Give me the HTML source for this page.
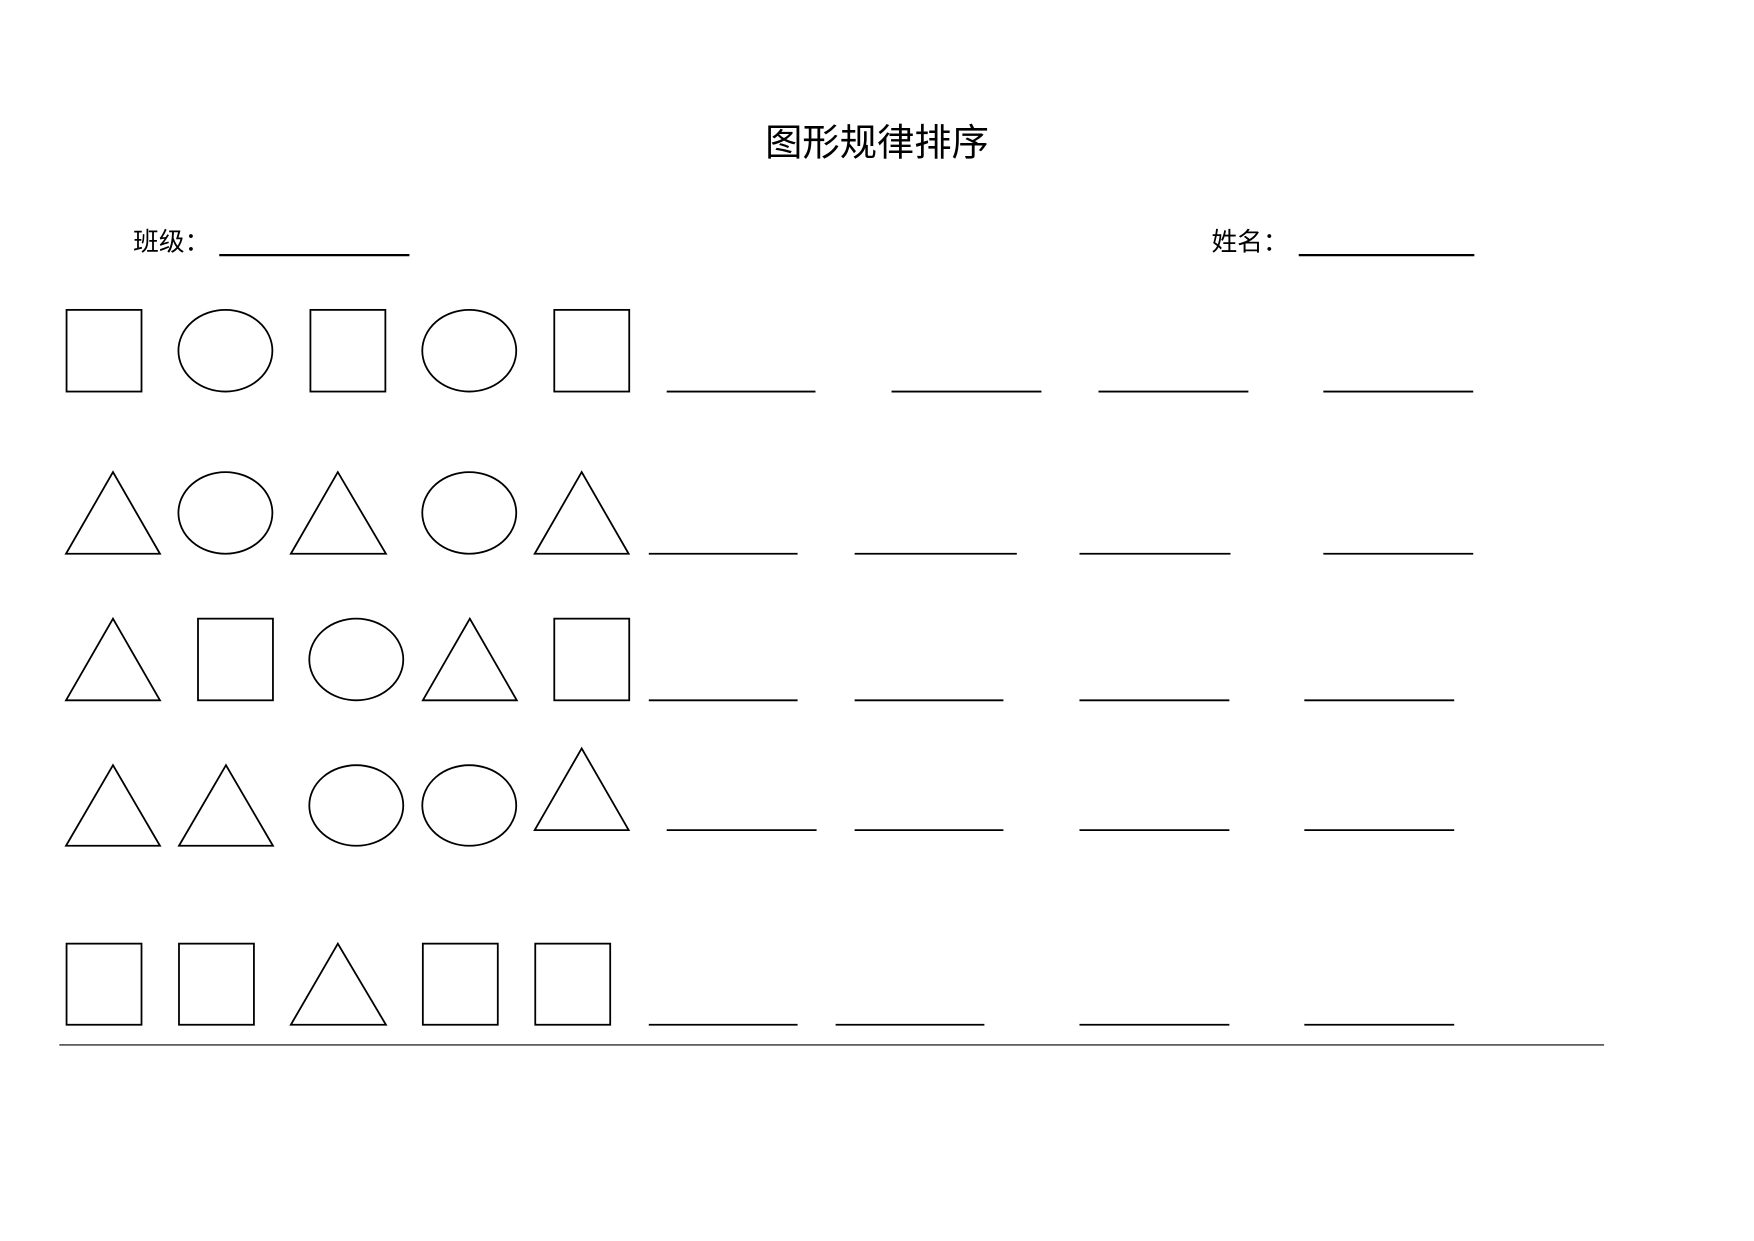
<!DOCTYPE html>
<html><head><meta charset="utf-8"><style>html,body{margin:0;padding:0;background:#fff}svg{display:block}</style></head>
<body>
<svg width="1754" height="1241" viewBox="0 0 1568 1109.3" xmlns="http://www.w3.org/2000/svg" preserveAspectRatio="none">
<rect width="1568" height="1110" fill="#fff"/>
<g font-family="'Liberation Sans','Noto Sans CJK SC',sans-serif" fill="#000">
<text x="784" y="139" font-size="33.5" text-anchor="middle" textLength="200" lengthAdjust="spacingAndGlyphs">图形规律排序</text>
<text x="119" y="224" font-size="23">班级：</text>
<text x="1083" y="224" font-size="23">姓名：</text>
</g>
<g stroke="#000" stroke-width="1.6" fill="none">
<line x1="196" y1="228" x2="366" y2="228" stroke-width="2"/>
<line x1="1161" y1="228" x2="1318" y2="228" stroke-width="2"/>
<!-- row1 -->
<rect x="59.5" y="277" width="67" height="73"/>
<ellipse cx="201.5" cy="313.5" rx="42" ry="36.5"/>
<rect x="277.5" y="277" width="67" height="73"/>
<ellipse cx="419.5" cy="313.5" rx="42" ry="36.5"/>
<rect x="495.5" y="277" width="67" height="73"/>
<path d="M596 350H729M797 350H931M982 350H1116M1183 350H1317"/>
<!-- row2 -->
<path d="M101 422L59 495H143Z"/>
<ellipse cx="201.5" cy="458.5" rx="42" ry="36.5"/>
<path d="M302 422L260 495H345Z"/>
<ellipse cx="419.5" cy="458.5" rx="42" ry="36.5"/>
<path d="M520 422L478 495H562Z"/>
<path d="M580 495H713M764 495H909M965 495H1100M1183 495H1317"/>
<!-- row3 -->
<path d="M101 553L59 626H143Z"/>
<rect x="177" y="553" width="67" height="73"/>
<ellipse cx="318.5" cy="589.5" rx="42" ry="36.5"/>
<path d="M420 553L378 626H462Z"/>
<rect x="495.5" y="553" width="67" height="73"/>
<path d="M580 626H713M764 626H897M965 626H1099M1166 626H1300"/>
<!-- row4 -->
<path d="M101 684L59 756H143Z"/>
<path d="M202 684L160 756H244Z"/>
<ellipse cx="318.5" cy="720" rx="42" ry="36"/>
<ellipse cx="419.5" cy="720" rx="42" ry="36"/>
<path d="M520 669L478 742H562Z"/>
<path d="M596 742H730M764 742H897M965 742H1099M1166 742H1300"/>
<!-- row5 -->
<rect x="59.5" y="843.5" width="67" height="72.5"/>
<rect x="160" y="843.5" width="67" height="72.5"/>
<path d="M302 843.5L260 916H345Z"/>
<rect x="378" y="843.5" width="67" height="72.5"/>
<rect x="478.5" y="843.5" width="67" height="72.5"/>
<path d="M580 916H713M747 916H880M965 916H1099M1166 916H1300"/>
<line x1="53" y1="934" x2="1434" y2="934" stroke-width="1"/>
</g>
</svg>
</body></html>
